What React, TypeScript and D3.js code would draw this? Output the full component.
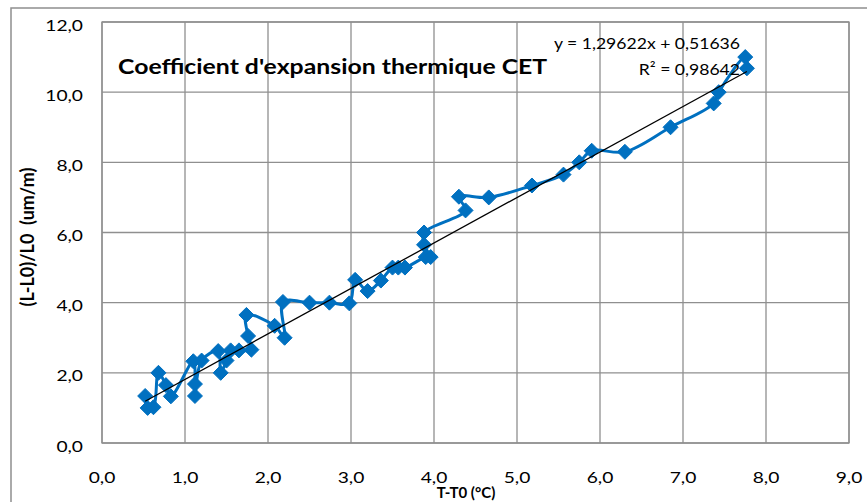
import React from "react";
import * as d3 from "d3";

const xValues: number[] = [0.52, 0.55, 0.62, 0.68, 0.77, 0.83, 1.1, 1.12, 1.12, 1.2, 1.4, 1.43, 1.5, 1.55, 1.65, 1.8, 1.76, 1.74, 2.08, 2.2, 2.18, 2.5, 2.74, 2.98, 3.05, 3.2, 3.36, 3.5, 3.57, 3.65, 3.9, 3.96, 3.88, 3.88, 4.38, 4.3, 4.66, 5.18, 5.56, 5.75, 5.9, 6.3, 6.85, 7.37, 7.43, 7.75, 7.77];
const yValues: number[] = [1.34, 1.0, 1.02, 2.0, 1.65, 1.33, 2.33, 1.68, 1.34, 2.35, 2.62, 2.0, 2.35, 2.64, 2.64, 2.66, 3.05, 3.65, 3.34, 3.0, 4.02, 4.0, 4.0, 3.98, 4.65, 4.33, 4.63, 5.0, 5.0, 5.0, 5.3, 5.3, 5.65, 6.0, 6.63, 7.02, 7.0, 7.34, 7.65, 8.0, 8.33, 8.3, 9.0, 9.68, 10.0, 11.0, 10.68];

const xTicks: number[] = [0, 1, 2, 3, 4, 5, 6, 7, 8, 9];
const yTicks: number[] = [0, 2, 4, 6, 8, 10, 12];
const slope = 1.29622;
const intercept = 0.51636;
const rSquared = "0,98642";

const title = "Coefficient d'expansion thermique CET";
const xTitle = "T-T0 (°C)";
const yTitle = "(L-L0)/L0  (um/m)";

const fmt = (v: number) => v.toFixed(1).replace(".", ",");

export default function App() {
  const W = 867, H = 502;
  const left = 102, right = 849, top = 22, bottom = 443;
  const x = d3.scaleLinear().domain([0, 9]).range([left, right]);
  const y = d3.scaleLinear().domain([0, 12]).range([bottom, top]);
  const pts = xValues.map((v, i) => [v, yValues[i]] as [number, number]);
  const line = d3.line<[number, number]>().x(d => x(d[0])).y(d => y(d[1])).curve(d3.curveCatmullRom.alpha(0.5));
  const xmin = d3.min(xValues)!, xmax = d3.max(xValues)!;
  const grid = "#8f8f8f";
  const font = "Lato, 'Open Sans', sans-serif";
  const blue = "#0070C0";
  const diamond = (cx: number, cy: number, r: number) => `M${cx},${cy - r}L${cx + r},${cy}L${cx},${cy + r}L${cx - r},${cy}Z`;
  const eq = `y = ${String(slope).replace(".", ",")}x + ${String(intercept).replace(".", ",")}`;
  return (
    <svg width={W} height={H} style={{ position: "absolute", left: 0, top: 0, background: "#fff" }} fontFamily={font}>
      <rect x={11} y={8} width={W} height={H} fill="#fff" stroke={grid} strokeWidth={1.5} />
      {xTicks.map(t => (
        <line key={"gx" + t} x1={x(t)} x2={x(t)} y1={top} y2={bottom} stroke={grid} strokeWidth={1.3} />
      ))}
      {yTicks.map(t => (
        <line key={"gy" + t} x1={left} x2={right} y1={y(t)} y2={y(t)} stroke={grid} strokeWidth={1.3} />
      ))}
      <rect x={left} y={top} width={right - left} height={bottom - top} fill="none" stroke={grid} strokeWidth={1.3} />
      {yTicks.map(t => (
        <text key={"ty" + t} transform={`translate(83,${y(t) + 8.5}) scale(1.2,1)`} textAnchor="end" fontSize={16} fill="#000">{fmt(t)}</text>
      ))}
      {xTicks.map(t => (
        <text key={"tx" + t} transform={`translate(${x(t)},482.5) scale(1.2,1)`} textAnchor="middle" fontSize={16} fill="#000">{fmt(t)}</text>
      ))}
      <text x={466} y={498} textAnchor="middle" fontSize={15} fontWeight="bold" fill="#000">{xTitle}</text>
      <text transform={`translate(34,237) rotate(-90)`} textAnchor="middle" fontSize={18} fontWeight="bold" fill="#000" style={{ whiteSpace: "pre" }}>{yTitle}</text>
      <text transform={`translate(118,74) scale(1.24,1)`} fontSize={20} fontWeight="bold" fill="#000">{title}</text>
      <path d={line(pts) ?? ""} fill="none" stroke={blue} strokeWidth={3} strokeLinejoin="round" />
      {pts.map((p, i) => (
        <path key={"m" + i} d={diamond(x(p[0]), y(p[1]), 7.5)} fill={blue} stroke={blue} strokeWidth={1} />
      ))}
      <line x1={x(xmin)} y1={y(intercept + slope * xmin)} x2={x(xmax)} y2={y(intercept + slope * xmax)} stroke="#000" strokeWidth={1.3} />
      <text transform={`translate(740,49) scale(1.1,1)`} textAnchor="end" fontSize={16} fill="#000">{eq}</text>
      <text transform={`translate(740,75) scale(1.1,1)`} textAnchor="end" fontSize={16} fill="#000">{`R² = ${rSquared}`}</text>
    </svg>
  );
}
